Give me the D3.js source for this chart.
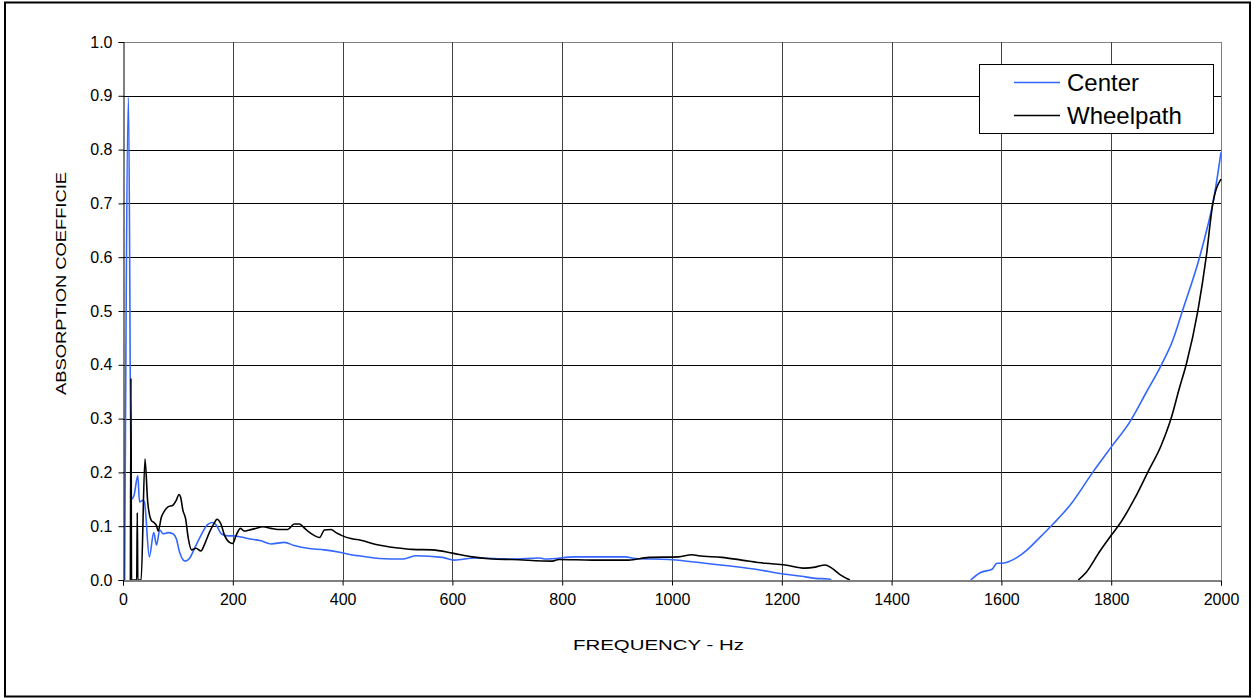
<!DOCTYPE html>
<html>
<head>
<meta charset="utf-8">
<script src="https://cdn.jsdelivr.net/npm/d3@7"></script>
<style>
  html, body { margin: 0; padding: 0; background: #fff; }
  svg { display: block; font-family: "Liberation Sans", Arial, sans-serif; }
</style>
</head>
<body>
<svg id="chart" width="1254" height="698"></svg>
<script>
// ---- data ----
const xTicks = [0, 200, 400, 600, 800, 1000, 1200, 1400, 1600, 1800, 2000];
const yTicks = [0, 0.1, 0.2, 0.3, 0.4, 0.5, 0.6, 0.7, 0.8, 0.9, 1.0];
const seriesNames = ["Center", "Wheelpath"];

// Center (null marks the gap where the curve falls below 0)
const centerFreq = [3, 10, 15, 20, 27, 30, 36, 39, 48, 56, 61, 67, 73, 82, 91, 97, 103, 113, 121, 130, 142, 155, 164, 170, 179, 191, 200, 215, 227, 251, 270, 294, 312, 336, 367, 397, 421, 430, 467, 509, 533, 582, 603, 642, 709, 758, 770, 824, 915, 933, 994, 1036, 1097, 1158, 1197, 1236, 1261, 1285, 1290,
  1400,
  1544, 1562, 1583, 1592, 1601, 1613, 1647, 1665, 1695, 1725, 1767, 1800, 1834, 1864, 1891, 1912, 1930, 1961, 1976, 1985, 2000];
const centerAbs = [0, 0.897, 0.15, 0.157, 0.194, 0.145, 0.148, 0.145, 0.043, 0.088, 0.065, 0.093, 0.086, 0.088, 0.086, 0.077, 0.052, 0.035, 0.04, 0.058, 0.083, 0.104, 0.107, 0.102, 0.086, 0.082, 0.082, 0.080, 0.077, 0.073, 0.067, 0.070, 0.064, 0.059, 0.056, 0.051, 0.046, 0.045, 0.040, 0.039, 0.045, 0.042, 0.037, 0.041, 0.039, 0.041, 0.039, 0.043, 0.043, 0.040, 0.038, 0.034, 0.027, 0.019, 0.012, 0.007, 0.003, 0.002, 0,
  null,
  0, 0.014, 0.020, 0.031, 0.031, 0.034, 0.056, 0.074, 0.105, 0.139, 0.201, 0.247, 0.294, 0.349, 0.399, 0.445, 0.501, 0.600, 0.659, 0.699, 0.795];

// Wheelpath
const wheelFreq = [13.5, 14.5, 15.5, 25, 26, 27, 33, 40, 45, 51.5, 56, 61, 64, 70, 76, 82, 91, 97, 102, 105, 109, 114, 119, 125, 133, 142, 148, 158, 167, 171, 178, 185, 194, 200, 206, 214, 221, 230, 239, 255, 270, 282, 300, 312, 321, 333, 348, 358, 367, 379, 388, 400, 415, 433, 461, 497, 527, 564, 600, 636, 673, 709, 782, 794, 855, 921, 958, 1012, 1036, 1048, 1091, 1127, 1170, 1206, 1242, 1261, 1279, 1291, 1309, 1324,
  1500,
  1740, 1755, 1779, 1800, 1816, 1843, 1867, 1891, 1909, 1924, 1937, 1958, 1973, 1985, 2000];
const wheelAbs = [0, 0.375, 0, 0, 0.125, 0, 0, 0.225, 0.145, 0.111, 0.107, 0.101, 0.091, 0.117, 0.129, 0.136, 0.139, 0.148, 0.159, 0.154, 0.130, 0.114, 0.077, 0.056, 0.059, 0.054, 0.065, 0.090, 0.107, 0.113, 0.105, 0.083, 0.070, 0.068, 0.083, 0.096, 0.091, 0.093, 0.095, 0.099, 0.096, 0.094, 0.094, 0.104, 0.104, 0.094, 0.083, 0.079, 0.093, 0.094, 0.088, 0.082, 0.077, 0.074, 0.066, 0.060, 0.057, 0.056, 0.050, 0.043, 0.039, 0.038, 0.035, 0.038, 0.037, 0.037, 0.042, 0.043, 0.047, 0.045, 0.042, 0.037, 0.031, 0.028, 0.022, 0.024, 0.028, 0.022, 0.008, 0,
  null,
  0, 0.015, 0.053, 0.083, 0.105, 0.152, 0.201, 0.250, 0.300, 0.356, 0.402, 0.501, 0.600, 0.699, 0.745];

const seriesColors = ["#3366ff", "#000000"];

// ---- layout ----
const svg = d3.select("#chart");
const plot = { left: 123, right: 1221, top: 42, bottom: 580 };

const x = d3.scaleLinear().domain([0, 2000]).range([plot.left, plot.right]);
const y = d3.scaleLinear().domain([0, 1]).range([plot.bottom, plot.top]);

// outer frame
svg.append("rect").attr("x", 5).attr("y", 2.5).attr("width", 1245).attr("height", 694)
  .attr("fill", "#fff").attr("stroke", "#000").attr("stroke-width", 2);

// gridlines
const grid = svg.append("g");
grid.selectAll("line.h").data(yTicks.filter(d => d > 0)).join("line")
  .attr("x1", plot.left).attr("x2", plot.right)
  .attr("y1", d => Math.round(y(d)) + 0.5).attr("y2", d => Math.round(y(d)) + 0.5)
  .attr("stroke", d => d >= 1 ? "#808080" : "#000").attr("stroke-width", 1);
grid.selectAll("line.v").data(xTicks.filter(d => d > 0)).join("line")
  .attr("y1", plot.top).attr("y2", plot.bottom)
  .attr("x1", d => Math.round(x(d)) + 0.5).attr("x2", d => Math.round(x(d)) + 0.5)
  .attr("stroke", d => d >= 2000 ? "#808080" : "#404040").attr("stroke-width", 1);

// series
svg.append("clipPath").attr("id", "clip").append("rect")
  .attr("x", plot.left).attr("y", plot.top - 1).attr("width", plot.right - plot.left + 1).attr("height", plot.bottom - plot.top + 1);

const line = d3.line().defined(d => d[1] !== null).x(d => x(d[0])).y(d => y(d[1])).curve(d3.curveMonotoneX);
const series = [
  { name: seriesNames[0], data: centerFreq.map((f, i) => [f, centerAbs[i]]), color: seriesColors[0] },
  { name: seriesNames[1], data: wheelFreq.map((f, i) => [f, wheelAbs[i]]), color: seriesColors[1] }
];
svg.append("g").attr("clip-path", "url(#clip)").selectAll("path").data(series).join("path")
  .attr("d", d => line(d.data)).attr("fill", "none")
  .attr("stroke", d => d.color).attr("stroke-width", 1.6).attr("stroke-linejoin", "round");

// axes
const yAxis = d3.axisLeft(y).tickValues(yTicks).tickFormat(d3.format(".1f")).tickSize(5).tickPadding(6);
const gy = svg.append("g").attr("transform", `translate(${plot.left + 0.5},0)`).call(yAxis);
const xAxis = d3.axisBottom(x).tickValues(xTicks).tickFormat(d3.format("d")).tickSize(5).tickPadding(8);
const gx = svg.append("g").attr("transform", `translate(0,${plot.bottom + 0.5})`).call(xAxis);
[gx, gy].forEach(g => {
  g.select(".domain").attr("stroke", "#000").attr("stroke-width", 1);
  g.selectAll(".tick line").attr("stroke", "#000");
  g.selectAll(".tick text").attr("fill", "#000").style("font-size", "16px")
    .style("font-family", "'Liberation Sans', Arial, sans-serif");
});

// axis titles
svg.append("text").attr("x", 658.5).attr("y", 650)
  .attr("text-anchor", "middle").style("font-size", "15px")
  .attr("textLength", 171).attr("lengthAdjust", "spacingAndGlyphs").text("FREQUENCY - Hz");
svg.append("text").attr("transform", "translate(66,283.5) rotate(-90)")
  .attr("text-anchor", "middle").style("font-size", "15px")
  .attr("textLength", 223).attr("lengthAdjust", "spacingAndGlyphs").text("ABSORPTION COEFFICIE");

// legend
const lg = svg.append("g");
lg.append("rect").attr("x", 979.5).attr("y", 64.5).attr("width", 234).attr("height", 69)
  .attr("fill", "#fff").attr("stroke", "#000").attr("stroke-width", 1);
const ly = [82.5, 115.5];
series.forEach((s, i) => {
  lg.append("line").attr("x1", 1014).attr("x2", 1060).attr("y1", ly[i]).attr("y2", ly[i])
    .attr("stroke", s.color).attr("stroke-width", 1.6);
  lg.append("text").attr("x", 1067).attr("y", ly[i]).attr("dy", "0.35em")
    .style("font-size", "24px").text(s.name);
});
</script>
</body>
</html>
